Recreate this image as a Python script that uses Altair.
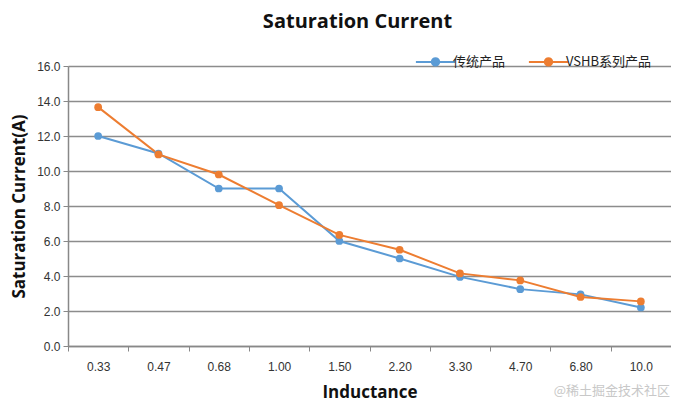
import altair as alt
import pandas as pd

categories = ["0.33", "0.47", "0.68", "1.00", "1.50", "2.20", "3.30", "4.70", "6.80", "10.0"]
traditional = [12.0, 11.0, 9.0, 9.0, 6.0, 5.0, 3.95, 3.25, 2.95, 2.2]
vshb = [13.65, 10.95, 9.8, 8.05, 6.35, 5.5, 4.15, 3.75, 2.8, 2.55]
series_names = ["传统产品", "VSHB系列产品"]
colors = ["#5B9BD5", "#ED7D31"]

rows = []
for name, vals in zip(series_names, [traditional, vshb]):
    for c, v in zip(categories, vals):
        rows.append({"Inductance": c, "Current": v, "Series": name})
df = pd.DataFrame(rows)

W, H = 603, 280

x = alt.X("Inductance:N", sort=categories,
          scale=alt.Scale(type="band", paddingInner=0, paddingOuter=0),
          axis=alt.Axis(title="Inductance", labelAngle=0, tickBand="extent",
                        grid=False, domain=True, domainColor="#888888", domainWidth=1.5,
                        tickColor="#888888", tickSize=5, labelPadding=10,
                        titlePadding=12))
y = alt.Y("Current:Q", scale=alt.Scale(domain=[0, 16], nice=False),
          axis=alt.Axis(title="Saturation Current(A)", values=list(range(0, 17, 2)),
                        format=".1f", grid=True, gridColor="#8c8c8c", gridWidth=1.5,
                        domain=True, domainColor="#888888", domainWidth=1.5,
                        tickColor="#888888", tickSize=5, labelPadding=3, titlePadding=8))
color = alt.Color("Series:N", sort=series_names,
                  scale=alt.Scale(domain=series_names, range=colors),
                  legend=alt.Legend(title=None, orient="none", direction="horizontal",
                                    legendX=354, legendY=-18,
                                    symbolType="M-1.6,0H1.6M0.3,0A0.3,0.3 0 1 1 -0.3,0A0.3,0.3 0 1 1 0.3,0",
                                    symbolSize=600, symbolStrokeWidth=2,
                                    labelFont="Noto Sans CJK SC", labelFontSize=13,
                                    labelColor="#222222", columnPadding=18, labelOffset=4))

lines = alt.Chart(df).mark_line(strokeWidth=2).encode(x=x, y=y, color=color)
points = alt.Chart(df).mark_point(filled=True, size=60, opacity=1).encode(
    x=x, y=y, color=alt.Color("Series:N", sort=series_names,
                              scale=alt.Scale(domain=series_names, range=colors)))

wm = alt.Chart(pd.DataFrame({"t": ["@稀土掘金技术社区"]})).mark_text(
    align="right", baseline="middle", font="Noto Sans CJK SC", fontSize=13,
    color="#c8c8c8").encode(text="t:N", x=alt.value(W - 1), y=alt.value(H + 45))

chart = alt.layer(lines, points, wm).properties(
    width=W, height=H,
    title=alt.TitleParams("Saturation Current", fontSize=20, font="Open Sans",
                          fontWeight="bold", color="#111111", dx=-12, offset=16),
    autosize=alt.AutoSizeParams(type="none"),
    padding={"left": 60, "top": 58, "right": 0, "bottom": 55},
).configure_axis(
    labelFont="Liberation Sans", labelFontSize=12, labelColor="#333333",
    titleFont="Open Sans", titleFontSize=17, titleFontWeight="bold", titleColor="#111111",
).configure_view(stroke=None)

chart.save("out.html", embed_options={"renderer": "svg", "actions": False})
